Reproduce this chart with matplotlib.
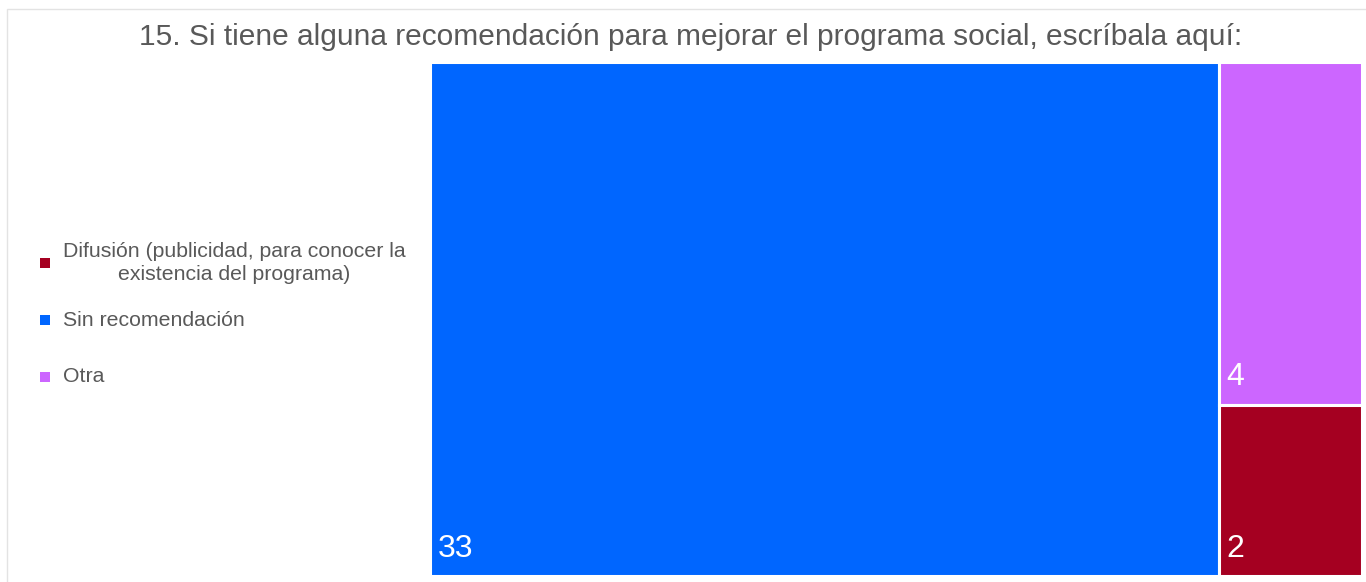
import matplotlib.pyplot as plt
from matplotlib.patches import Rectangle

plt.rcParams['font.family'] = ['Liberation Sans', 'DejaVu Sans']

# --- datos ---
title = "15. Si tiene alguna recomendación para mejorar el programa social, escríbala aquí:"
categorias = ["Difusión (publicidad, para conocer la\nexistencia del programa)",
              "Sin recomendación",
              "Otra"]
valores = [2, 33, 4]
colores = ["#A50021", "#0066FF", "#CC66FF"]

W, H = 1366, 582
fig = plt.figure(figsize=(W / 100, H / 100), dpi=100)

# marco gris claro
fig.patches.append(Rectangle((7 / W, -0.1), 1.2, 1 - 9 / H + 0.1, transform=fig.transFigure,
                             fill=False, edgecolor='#e3e3e3', linewidth=1))

fig.text(691 / W, 1 - 37 / H, title, ha='center', va='center', fontsize=21.5, color='#595959')

# --- treemap (columna grande + columna apilada) ---
ax = fig.add_axes([430 / W, 1 - 576 / H, 932 / W, 514 / H])
ax.set_xlim(0, 1)
ax.set_ylim(0, 1)
ax.axis('off')

orden = sorted(range(len(valores)), key=lambda i: -valores[i])
total = sum(valores)
primero = orden[0]
resto = orden[1:]
w0 = valores[primero] / total
rects = {primero: (0, 0, w0, 1)}
suma_resto = sum(valores[i] for i in resto)
y_top = 1.0
for i in resto:
    h = valores[i] / suma_resto
    rects[i] = (w0, y_top - h, 1 - w0, h)
    y_top -= h

for i, (x, y, w, h) in rects.items():
    ax.add_patch(Rectangle((x, y), w, h, facecolor=colores[i], edgecolor='white', linewidth=2.2))
    ax.text(x + 0.008, y + 0.024, str(valores[i]), color='white', fontsize=23,
            ha='left', va='bottom')

# --- leyenda manual ---
y_leg = [263, 320, 377]
for i, yy in enumerate(y_leg):
    fig.patches.append(Rectangle((40 / W, 1 - (yy + 5) / H), 10 / W, 10 / H,
                                 transform=fig.transFigure, facecolor=colores[i], edgecolor='none'))
    fig.text(63 / W, 1 - yy / H, categorias[i], ha='left', va='center', fontsize=15.3,
             color='#595959', multialignment='center', linespacing=1.3)

fig.savefig('out.png', dpi=100)
